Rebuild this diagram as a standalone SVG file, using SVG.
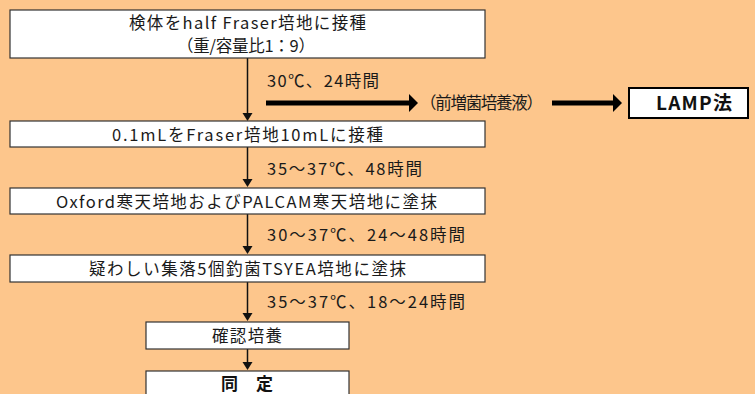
<svg xmlns="http://www.w3.org/2000/svg" width="755" height="394" viewBox="0 0 755 394">
<style>
.bg{fill:#FDC68C}
.box{fill:#fff;stroke:#333;stroke-width:1.2}
.t{font-family:"Noto Sans CJK JP","Noto Sans",sans-serif;font-size:16.5px;fill:#1a1a1a}
.b{font-weight:bold;fill:#111}
.v{stroke:#111;stroke-width:1.5;fill:none}
.h{stroke:#000;stroke-width:5;fill:none}
</style>
<rect class="bg" x="0" y="0" width="755" height="394"/>
<g id="connectors">
<line class="v" x1="247.5" y1="58" x2="247.5" y2="114"/>
<path d="M242.5,113 L252.5,113 L247.5,121 Z" fill="#111"/>
<line class="v" x1="247.5" y1="147" x2="247.5" y2="180"/>
<path d="M242.5,179 L252.5,179 L247.5,187 Z" fill="#111"/>
<line class="v" x1="247.5" y1="214" x2="247.5" y2="247"/>
<path d="M242.5,246 L252.5,246 L247.5,254 Z" fill="#111"/>
<line class="v" x1="247.5" y1="282" x2="247.5" y2="314"/>
<path d="M242.5,313 L252.5,313 L247.5,321 Z" fill="#111"/>
<line class="v" x1="247.5" y1="349" x2="247.5" y2="363"/>
<path d="M242.5,362 L252.5,362 L247.5,370 Z" fill="#111"/>
<line class="h" x1="266" y1="103" x2="410" y2="103"/>
<path d="M409,94 L418,103 L409,112 Z" fill="#000"/>
<line class="h" x1="552" y1="103" x2="614" y2="103"/>
<path d="M613,94 L622,103 L613,112 Z" fill="#000"/>
<text class="t" x="267" y="87" textLength="112" lengthAdjust="spacing">30℃、24時間</text>
<text class="t" x="267" y="175" textLength="155" lengthAdjust="spacing">35〜37℃、48時間</text>
<text class="t" x="267" y="241" textLength="198" lengthAdjust="spacing">30〜37℃、24〜48時間</text>
<text class="t" x="267" y="308" textLength="198" lengthAdjust="spacing">35〜37℃、18〜24時間</text>
</g>
<g id="n1">
<rect class="box" x="10" y="10" width="475" height="48"/>
<text class="t"><tspan x="129" y="29" textLength="237" lengthAdjust="spacing">検体をhalf Fraser培地に接種</tspan><tspan x="177" y="52" textLength="138" lengthAdjust="spacing">（重/容量比1：9）</tspan></text>
</g>
<g id="n-pre">
<text class="t" x="420" y="109" textLength="123" lengthAdjust="spacing">（前増菌培養液）</text>
</g>
<g id="n-lamp">
<rect x="629" y="88" width="119" height="30" fill="#fff" stroke="#000" stroke-width="2"/>
<text class="t b" x="656" y="110" style="font-size:19px" textLength="76" lengthAdjust="spacing">LAMP法</text>
</g>
<g id="n2">
<rect class="box" x="10" y="121" width="475" height="26"/>
<text class="t" x="112" y="141" textLength="271" lengthAdjust="spacing">0.1mLをFraser培地10mLに接種</text>
</g>
<g id="n3">
<rect class="box" x="10" y="188" width="475" height="26"/>
<text class="t" x="56" y="208" textLength="381" lengthAdjust="spacing">Oxford寒天培地およびPALCAM寒天培地に塗抹</text>
</g>
<g id="n4">
<rect class="box" x="10" y="255" width="475" height="27"/>
<text class="t" x="89" y="275" textLength="317" lengthAdjust="spacing">疑わしい集落5個釣菌TSYEA培地に塗抹</text>
</g>
<g id="n5">
<rect class="box" x="146" y="322" width="203" height="27"/>
<text class="t" x="212" y="342" textLength="70" lengthAdjust="spacing">確認培養</text>
</g>
<g id="n6">
<rect class="box" x="146" y="371" width="203" height="40" stroke-width="1.5"/>
<text class="t b" x="221" y="390" style="font-size:17px" textLength="52" lengthAdjust="spacing">同　定</text>
</g>
</svg>
